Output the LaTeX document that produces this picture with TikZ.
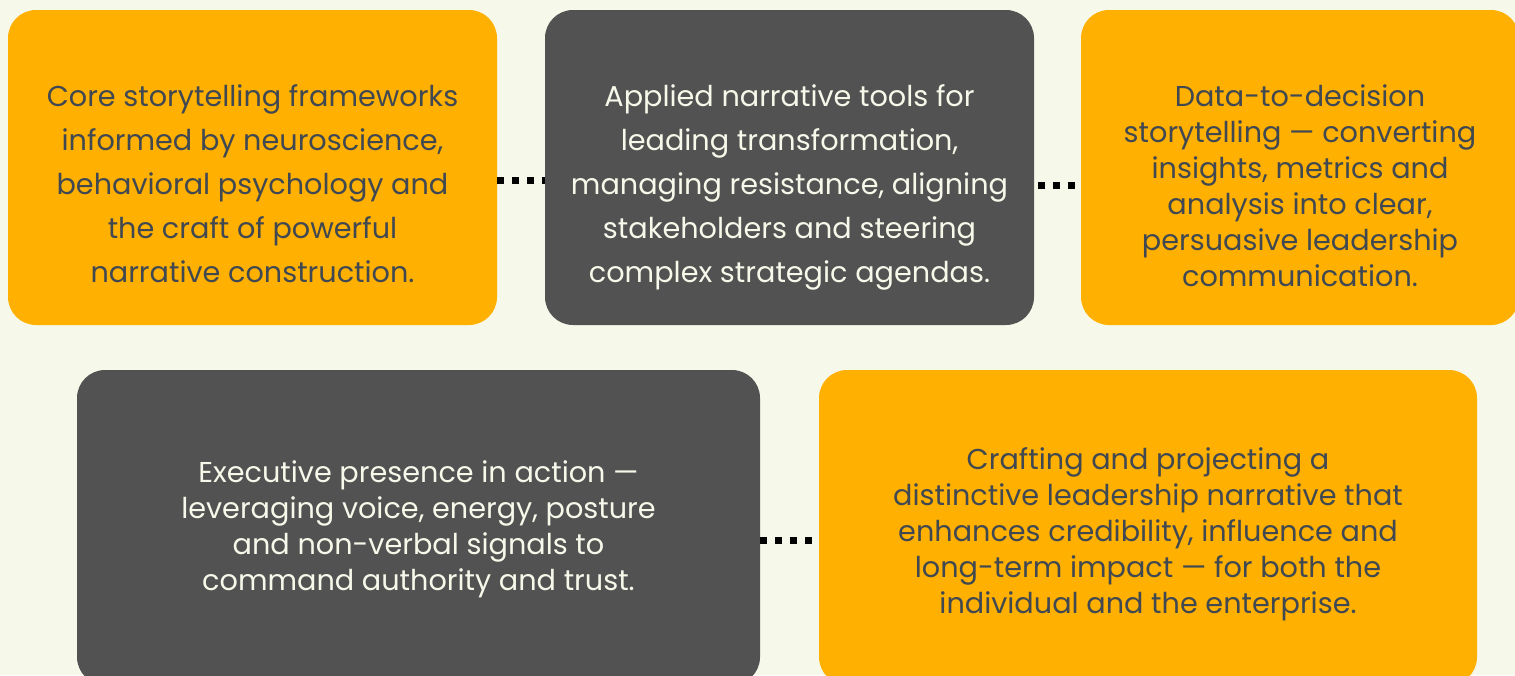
\documentclass[tikz,border=0pt]{standalone}
\usepackage{fontspec}
\setmainfont{Poppins}
\usetikzlibrary{positioning, calc}
\definecolor{color0}{RGB}{255,176,0}
\definecolor{color1}{RGB}{82,82,82}
\definecolor{color2}{RGB}{246,249,234}
\definecolor{color3}{RGB}{64,72,82}

\begin{document}
\begin{tikzpicture}[x=1pt, y=-1pt]
	\tikzstyle{card}=[rectangle, rounded corners=28pt, minimum height=315pt, inner sep=0pt]
	\tikzstyle{cardtext}=[align=center, inner sep=0pt, font=\fontsize{28.7}{36}\selectfont]
	\tikzstyle{widetext}=[cardtext, font=\fontsize{28.7}{44}\selectfont]
	\tikzstyle{dots}=[line width=7pt, dash pattern=on 7pt off 8pt]

	\fill[color2] (0,0) rectangle (1515,675);
	\useasboundingbox (0,0) rectangle (1515,675);

	\node[card, fill=color0, minimum width=489pt] (card1) at (252.5,167.5) {};
	\node[card, fill=color1, minimum width=489pt] (card2) at (789.5,167.5) {};
	\node[card, fill=color0, minimum width=438pt] (card3) at (1300,167.5) {};
	\node[card, fill=color1, minimum width=683pt] (card4) at (418.5,527.5) {};
	\node[card, fill=color0, minimum width=658pt] (card5) at (1148,527.5) {};

	\draw[dots] ([yshift=-12.5pt]card1.east) -- ([yshift=-12.5pt]card2.west);
	\draw[dots, dash phase=11.5pt] ([yshift=-17.5pt]card2.east) -- ([yshift=-17.5pt]card3.west);
	\draw[dots] ([yshift=-12.5pt]card4.east) -- ([yshift=-12.5pt]card5.west);

	\node[widetext, text=color3] (text1) at ($(card1.center)+(0,16)$) {Core storytelling frameworks\\informed by neuroscience,\\behavioral psychology and\\the craft of powerful\\narrative construction.};
	\node[widetext, text=color2] (text2) at ($(card2.center)+(0,20)$) {Applied narrative tools for\\leading transformation,\\managing resistance, aligning\\stakeholders and steering\\complex strategic agendas.};
	\node[cardtext, text=color3] (text3) at ($(card3.center)+(0,18.5)$) {Data-to-decision\\storytelling — converting\\insights, metrics and\\analysis into clear,\\persuasive leadership\\communication.};
	\node[cardtext, text=color2] (text4) at ($(card4.center)+(0,1.5)$) {Executive presence in action —\\leveraging voice, energy, posture\\and non-verbal signals to\\command authority and trust.};
	\node[cardtext, text=color3] (text5) at ($(card5.center)+(0,7)$) {Crafting and projecting a\\distinctive leadership narrative that\\enhances credibility, influence and\\long-term impact — for both the\\individual and the enterprise.};
\end{tikzpicture}
\end{document}
